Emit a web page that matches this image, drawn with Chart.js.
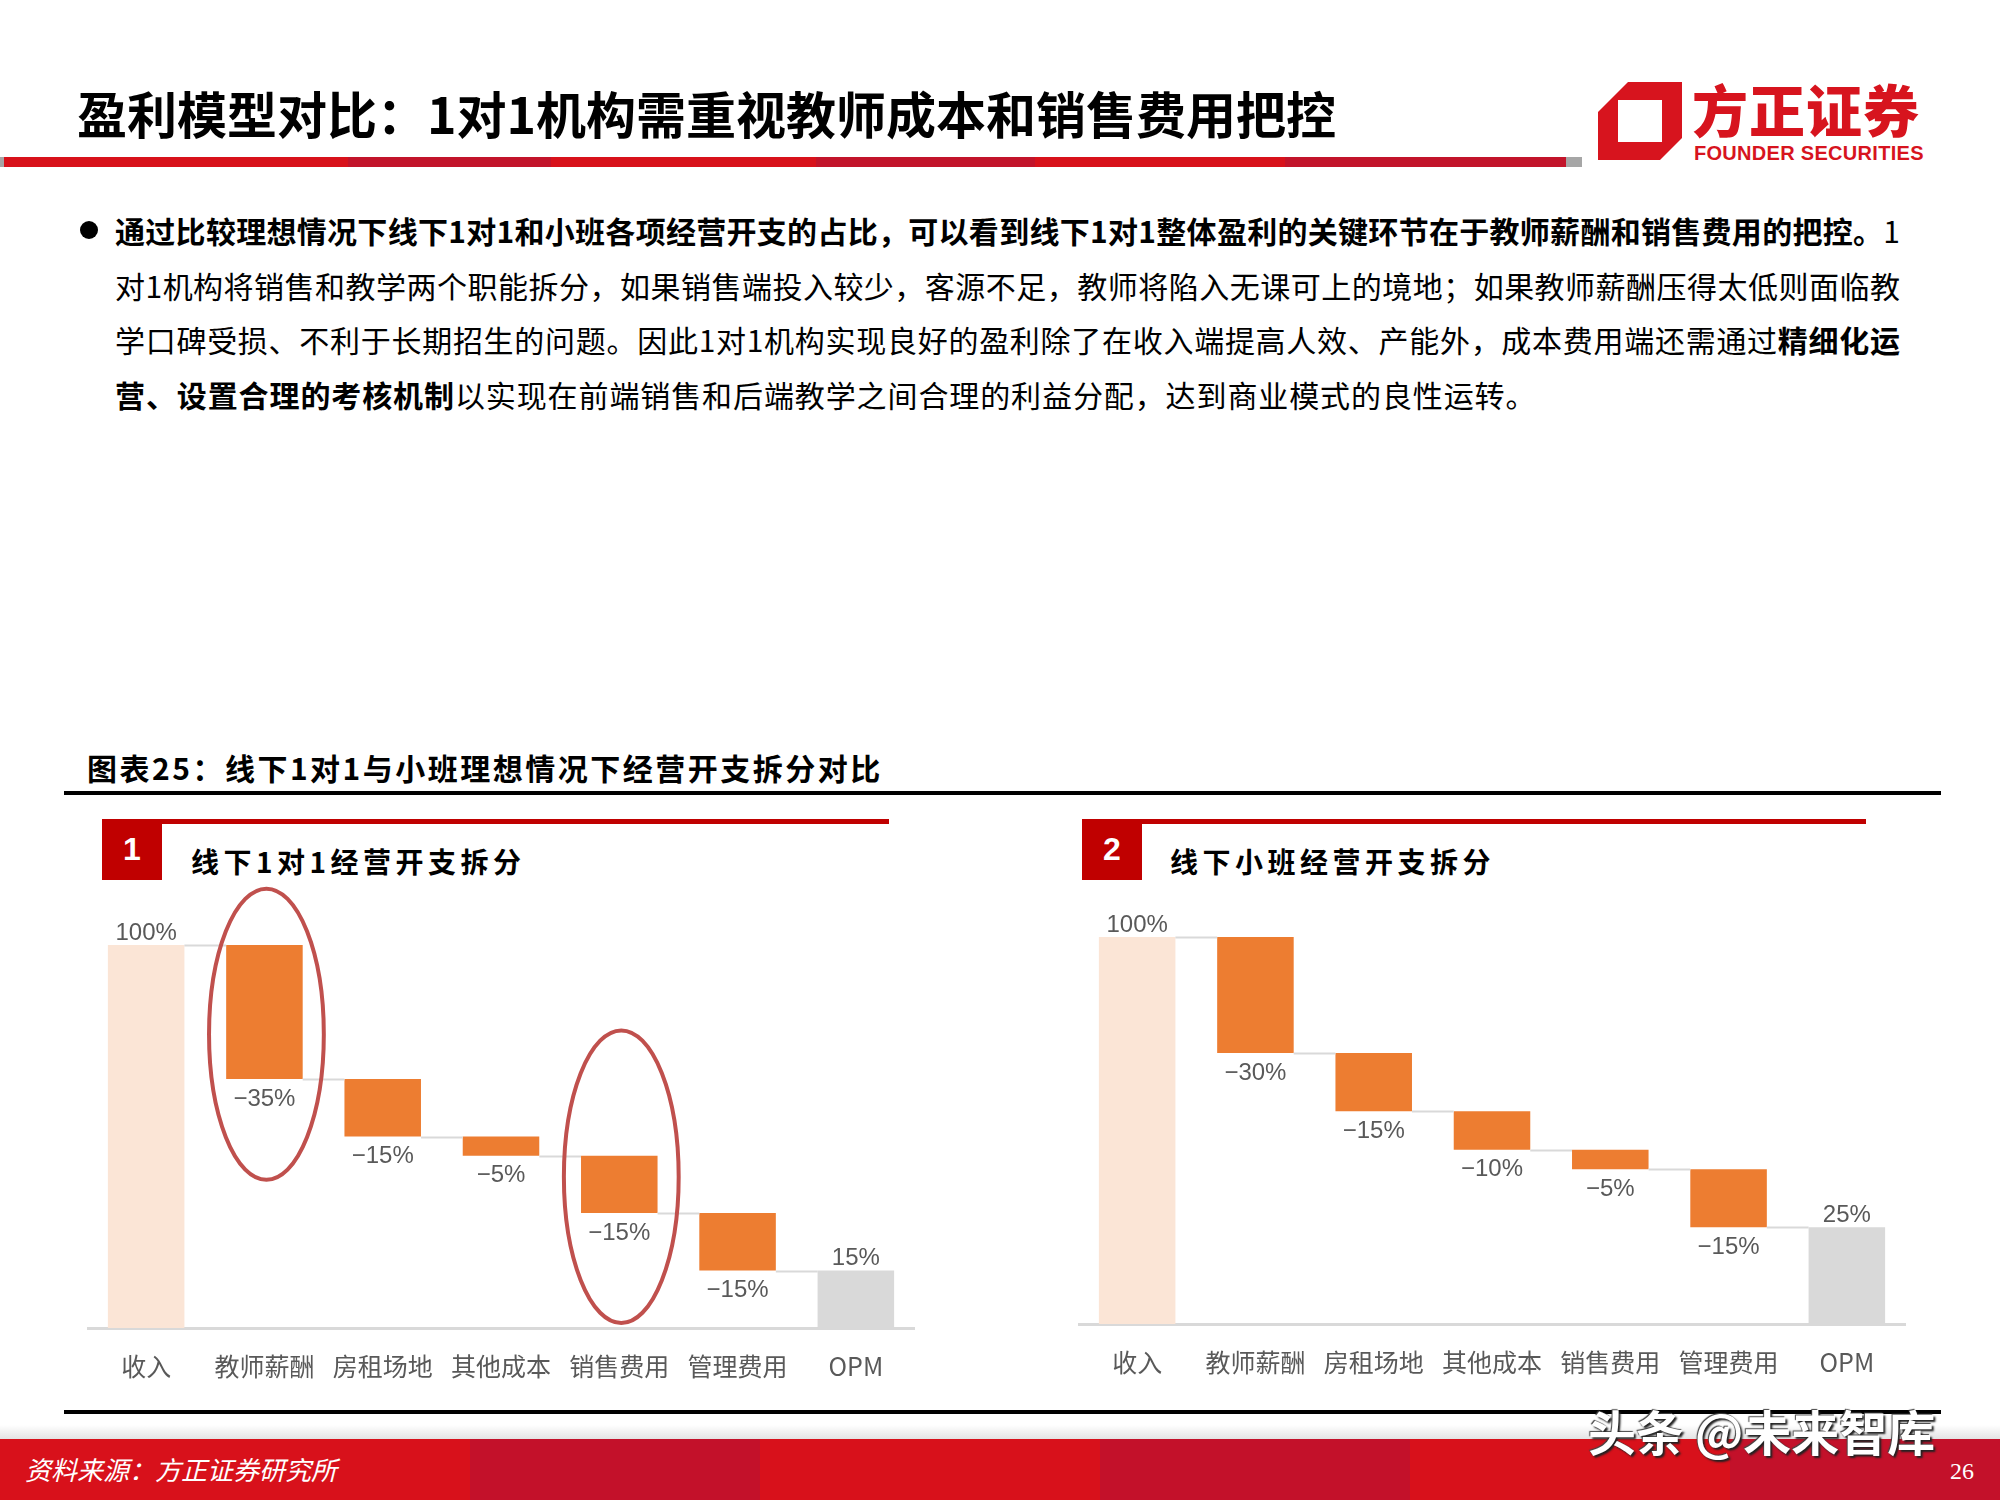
<!DOCTYPE html>
<html>
<head>
<meta charset="utf-8">
<script src="https://cdn.jsdelivr.net/npm/chart.js@4.4.1/dist/chart.umd.min.js"></script>
<style>
html, body { margin: 0; padding: 0; background: #fff; }
body { width: 2000px; height: 1500px; position: relative; overflow: hidden;
       font-family: "Noto Sans CJK SC", "Noto Sans", sans-serif; color: #000; }
.abs { position: absolute; }
.title { left: 77px; top: 82px; font-size: 50px; font-weight: 700; line-height: 60px; white-space: nowrap; }
.rule-red { left: 4px; top: 157px; width: 1562px; height: 10px;
  background: linear-gradient(90deg, #d8121b 0%, #d8121b 22%, #c2142a 22%, #c2142a 35%, #d8121b 35%, #d8121b 52%,
    #c2142a 52%, #c2142a 66%, #d8121b 66%, #d8121b 82%, #c2142a 82%, #c2142a 100%); }
.rule-grey-l { left: 0; top: 157px; width: 4px; height: 10px; background: #a6a6a6; }
.rule-grey-r { left: 1566px; top: 157px; width: 16px; height: 10px; background: #a6a6a6; }
.logo-cn { left: 1692px; top: 78px; font-size: 56px; font-weight: 900; color: #d7141e; line-height: 60px; letter-spacing: 1px; white-space: nowrap; }
.logo-en { left: 1694px; top: 142px; font-family: "Liberation Sans", Arial, sans-serif; font-size: 20px; font-weight: 700;
  color: #d7141e; line-height: 22px; white-space: nowrap; letter-spacing: 0.3px; }
.bullet { left: 80px; top: 221px; width: 18px; height: 18px; border-radius: 50%; background: #000; }
.para { left: 115px; top: 203px; width: 1785px; font-size: 30px; line-height: 54.6px; }
.para div { white-space: nowrap; text-align: justify; text-align-last: justify; }
.para div.last { text-align-last: left; letter-spacing: 0.9px; }
.para b { font-weight: 700; }
.caption { left: 87px; top: 748px; font-size: 30px; font-weight: 700; letter-spacing: 2.5px; line-height: 38px; white-space: nowrap; }
.rule-black { left: 64px; width: 1877px; height: 4px; background: #000; }
.panel-line { top: 819px; height: 5px; background: #c00000; }
.panel-num { top: 819px; width: 60px; height: 61px; background: #c00000; color: #fff;
  font-family: "Liberation Sans", Arial, sans-serif; font-weight: 700; font-size: 32px; line-height: 61px; text-align: center; }
.panel-sub { top: 842px; font-size: 28px; font-weight: 700; letter-spacing: 4.5px; line-height: 38px; white-space: nowrap; }
.footer { left: 0; top: 1439px; width: 2000px; height: 61px;
  background: linear-gradient(90deg, #d8111b 0%, #d8111b 23.5%, #c3112a 23.5%, #c3112a 38%, #d8111b 38%, #d8111b 55%,
    #c3112a 55%, #c3112a 70.5%, #d8111b 70.5%, #d8111b 86.5%, #c3112a 86.5%, #c3112a 100%); }
.footer-shade { left: 0; top: 1425px; width: 2000px; height: 14px; background: linear-gradient(180deg, rgba(255,255,255,0), rgba(200,200,200,0.5)); }
.source { left: 25px; top: 1452px; color: #fff; font-size: 26px; font-style: italic; line-height: 34px; white-space: nowrap; }
.pageno { left: 1950px; top: 1456px; color: #fff; font-family: "Liberation Serif", serif; font-size: 24px; line-height: 30px; }
.watermark { left: 1588px; top: 1400px; color: #fff; font-size: 48px; font-weight: 700; line-height: 60px; white-space: nowrap;
  text-shadow: 2px 2px 2px #222, -1px -1px 1px #444; }
canvas { position: absolute; }
</style>
</head>
<body>

<div class="abs title">盈利模型对比：1对1机构需重视教师成本和销售费用把控</div>
<div class="abs rule-grey-l"></div>
<div class="abs rule-red"></div>
<div class="abs rule-grey-r"></div>

<svg class="abs" style="left:1598px;top:82px" width="84" height="78" viewBox="0 0 84 78">
  <polygon points="0,30 30,0 84,0 84,56 62,78 0,78" fill="#d7141e"/>
  <rect x="20" y="18" width="44" height="42" fill="#fff"/>
</svg>
<div class="abs logo-cn">方正证券</div>
<div class="abs logo-en">FOUNDER SECURITIES</div>

<div class="abs bullet"></div>
<div class="abs para">
  <div><b>通过比较理想情况下线下1对1和小班各项经营开支的占比，可以看到线下1对1整体盈利的关键环节在于教师薪酬和销售费用的把控。</b>1</div>
  <div>对1机构将销售和教学两个职能拆分，如果销售端投入较少，客源不足，教师将陷入无课可上的境地；如果教师薪酬压得太低则面临教</div>
  <div>学口碑受损、不利于长期招生的问题。因此1对1机构实现良好的盈利除了在收入端提高人效、产能外，成本费用端还需通过<b>精细化运</b></div>
  <div class="last"><b>营、设置合理的考核机制</b>以实现在前端销售和后端教学之间合理的利益分配，达到商业模式的良性运转。</div>
</div>

<div class="abs caption">图表25：线下1对1与小班理想情况下经营开支拆分对比</div>
<div class="abs rule-black" style="top:791px"></div>

<div class="abs panel-line" style="left:102px;width:787px"></div>
<div class="abs panel-num" style="left:102px">1</div>
<div class="abs panel-sub" style="left:191px">线下1对1经营开支拆分</div>

<div class="abs panel-line" style="left:1082px;width:784px"></div>
<div class="abs panel-num" style="left:1082px">2</div>
<div class="abs panel-sub" style="left:1170px">线下小班经营开支拆分</div>

<canvas id="chartOne" width="828" height="541" style="left:87px;top:870px"></canvas>
<canvas id="chartTwo" width="828" height="545" style="left:1078px;top:862px"></canvas>

<div class="abs rule-black" style="top:1410px"></div>
<div class="abs footer-shade"></div>
<div class="abs footer"></div>
<div class="abs source">资料来源：方正证券研究所</div>
<div class="abs pageno">26</div>
<div class="abs watermark">头条 @未来智库</div>

<script>
const categories = ['收入', '教师薪酬', '房租场地', '其他成本', '销售费用', '管理费用', 'OPM'];
const oneOnOneShares = [100, -35, -15, -5, -15, -15, 15];
const smallClassShares = [100, -30, -15, -10, -5, -15, 25];

// red circles drawn on the 1-on-1 chart: category index and the value span they cover
const oneOnOneCircled = [
    { index: 1, low: 38.7, high: 114.7 },
    { index: 4, low: 1.3, high: 77.7 }
];

const labelFont = '24px "Liberation Sans Narrow", "Liberation Sans", Arial, sans-serif';

// turn shares into floating [from, to] bars
function toFloating(values) {
    let running = 0;
    return values.map((v, i) => {
        if (i === 0 || i === values.length - 1) {
            running = v;
            return [0, v];
        }
        const top = running;
        running += v;
        return [running, top];
    });
}

function barColors(values) {
    return values.map((v, i) => {
        if (i === 0) return '#fbe5d6';
        if (i === values.length - 1) return '#d9d9d9';
        return '#ed7d31';
    });
}

function fmt(v) {
    return (v < 0 ? '\u2212' + Math.abs(v) : v) + '%';
}

const waterfallDecor = {
    id: 'waterfallDecor',
    afterDatasetsDraw(chart, args, opts) {
        const ctx = chart.ctx;
        const meta = chart.getDatasetMeta(0);
        const ranges = chart.data.datasets[0].data;
        const y = chart.scales.y;
        const n = meta.data.length;
        ctx.save();

        // connectors
        ctx.strokeStyle = '#d9d9d9';
        ctx.lineWidth = 2;
        for (let i = 0; i < n - 1; i++) {
            const a = meta.data[i], b = meta.data[i + 1];
            const level = i === 0 ? ranges[0][1] : ranges[i][0];
            const py = Math.round(y.getPixelForValue(level)) + 0.5;
            ctx.beginPath();
            ctx.moveTo(a.x + a.width / 2, py);
            ctx.lineTo(b.x - b.width / 2, py);
            ctx.stroke();
        }

        // value labels
        ctx.font = labelFont;
        ctx.fillStyle = '#595959';
        ctx.textAlign = 'center';
        ctx.textBaseline = 'middle';
        opts.values.forEach((v, i) => {
            const bar = meta.data[i];
            if (i === 0 || i === n - 1) {
                ctx.fillText(fmt(v), bar.x, y.getPixelForValue(ranges[i][1]) - 12);
            } else {
                ctx.fillText(fmt(v), bar.x, y.getPixelForValue(ranges[i][0]) + 20);
            }
        });

        // highlight ellipses
        (opts.circled || []).forEach(c => {
            const bar = meta.data[c.index];
            const top = y.getPixelForValue(c.high);
            const bottom = y.getPixelForValue(c.low);
            ctx.beginPath();
            ctx.ellipse(bar.x + 2, (top + bottom) / 2, bar.width * 0.75, (bottom - top) / 2, 0, 0, Math.PI * 2);
            ctx.strokeStyle = '#c0504d';
            ctx.lineWidth = 4;
            ctx.stroke();
        });
        ctx.restore();
    }
};

function makeWaterfall(canvasId, values, circled) {
    return new Chart(document.getElementById(canvasId), {
        type: 'bar',
        data: {
            labels: categories,
            datasets: [{
                data: toFloating(values),
                backgroundColor: barColors(values),
                borderWidth: 0,
                barPercentage: 0.647,
                categoryPercentage: 1
            }]
        },
        options: {
            responsive: false,
            animation: false,
            layout: { padding: { top: 75, bottom: 7, left: 0, right: 0 } },
            plugins: {
                legend: { display: false },
                tooltip: { enabled: false },
                waterfallDecor: { values: values, circled: circled }
            },
            scales: {
                x: {
                    grid: { display: false, drawTicks: false },
                    border: { display: true, color: '#d9d9d9', width: 3 },
                    ticks: {
                        color: '#595959',
                        padding: 23,
                        font: { family: '"Noto Sans CJK SC", sans-serif', size: 25 }
                    }
                },
                y: { display: false, min: 0, max: 100 }
            }
        },
        plugins: [waterfallDecor]
    });
}

makeWaterfall('chartOne', oneOnOneShares, oneOnOneCircled);
makeWaterfall('chartTwo', smallClassShares, []);
</script>
</body>
</html>
